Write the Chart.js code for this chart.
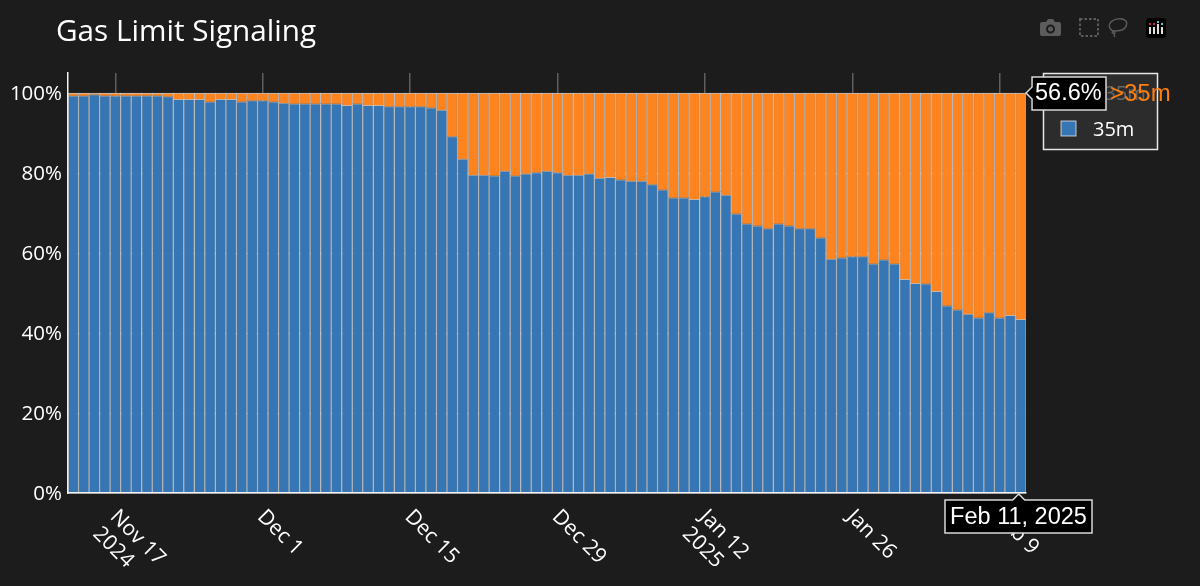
<!DOCTYPE html>
<html><head><meta charset="utf-8">
<style>
html,body{margin:0;padding:0;background:#1c1c1c;width:1200px;height:586px;overflow:hidden}
#c{position:absolute;left:0;top:0}
svg.ic{position:absolute}
</style>
<script src="https://cdn.jsdelivr.net/npm/chart.js@4"></script>
</head><body>
<canvas id="c" width="1200" height="586"></canvas>
<svg class="ic" style="left:1040px;top:18px" width="21" height="19" viewBox="0 0 21 19"><path fill="#5c5c5c" d="M2 4h4l2-3h5l2 3h4a2 2 0 0 1 2 2v10a2 2 0 0 1-2 2H2a2 2 0 0 1-2-2V6a2 2 0 0 1 2-2zm8.500 2.500a4.500 4.500 0 1 0 0 9 4.500 4.500 0 0 0 0-9zm0 2a2.500 2.500 0 1 1 0 5 2.500 2.500 0 0 1 0-5z" fill-rule="evenodd"/></svg>
<svg class="ic" style="left:1079px;top:18px" width="21" height="20" viewBox="0 0 21 20"><rect x="1" y="1" width="18" height="17" fill="none" stroke="#5c5c5c" stroke-width="2" stroke-dasharray="2.500 2"/></svg>
<svg class="ic" style="left:1107px;top:17px" width="22" height="21" viewBox="0 0 22 21"><path fill="none" stroke="#5c5c5c" stroke-width="1.500" d="M6 14C2 12 1 8 4 5 8 1 16 1 19 4c2 3 0 7-4 9-3 1-6 1-9 1zm0 0c-1 1-1 2 0 2 1 1 2 1 2-1 0-1-1-1-2-1zm1 2c0 1 0 3 1 4"/></svg>
<svg class="ic" style="left:1146px;top:18px" width="20" height="20" viewBox="0 0 20 20"><rect width="20" height="20" rx="3" fill="#000"/><g fill="#e0e0e0"><rect x="3" y="9" width="2" height="7"/><rect x="7" y="9" width="2" height="7"/><rect x="11" y="6" width="2" height="10"/><rect x="15" y="9" width="2" height="7"/></g><rect x="3" y="5" width="2" height="2" fill="#e0245e"/><rect x="7" y="5" width="2" height="2" fill="#e0245e"/><rect x="11" y="3" width="2" height="2" fill="#5bc0de"/><rect x="15" y="5" width="2" height="2" fill="#5bc0de"/></svg>
<script>
const chartTitle = 'Gas Limit Signaling';
const categories = [
'2024-11-13','2024-11-14','2024-11-15','2024-11-16','2024-11-17','2024-11-18','2024-11-19','2024-11-20','2024-11-21','2024-11-22','2024-11-23','2024-11-24','2024-11-25','2024-11-26','2024-11-27','2024-11-28','2024-11-29','2024-11-30',
'2024-12-01','2024-12-02','2024-12-03','2024-12-04','2024-12-05','2024-12-06','2024-12-07','2024-12-08','2024-12-09','2024-12-10','2024-12-11','2024-12-12','2024-12-13','2024-12-14','2024-12-15','2024-12-16','2024-12-17','2024-12-18','2024-12-19','2024-12-20','2024-12-21','2024-12-22','2024-12-23','2024-12-24','2024-12-25','2024-12-26','2024-12-27','2024-12-28','2024-12-29','2024-12-30','2024-12-31',
'2025-01-01','2025-01-02','2025-01-03','2025-01-04','2025-01-05','2025-01-06','2025-01-07','2025-01-08','2025-01-09','2025-01-10','2025-01-11','2025-01-12','2025-01-13','2025-01-14','2025-01-15','2025-01-16','2025-01-17','2025-01-18','2025-01-19','2025-01-20','2025-01-21','2025-01-22','2025-01-23','2025-01-24','2025-01-25','2025-01-26','2025-01-27','2025-01-28','2025-01-29','2025-01-30','2025-01-31',
'2025-02-01','2025-02-02','2025-02-03','2025-02-04','2025-02-05','2025-02-06','2025-02-07','2025-02-08','2025-02-09','2025-02-10','2025-02-11'];
const series35m = [
99.3,99.3,99.6,99.3,99.3,99.3,99.3,99.3,99.3,99.1,
98.4,98.4,98.4,97.8,98.4,98.4,97.8,98.1,98.1,97.8,
97.5,97.3,97.3,97.3,97.3,97.3,96.9,97.3,96.9,96.9,
96.6,96.6,96.6,96.6,96.3,95.7,89.1,83.5,79.5,79.5,
79.3,80.5,79.3,79.8,80.1,80.5,80.1,79.5,79.5,79.8,
78.7,78.9,78.3,78.0,78.0,77.1,75.8,73.8,73.8,73.4,
74.1,75.3,74.5,69.8,67.3,66.8,66.1,67.3,66.8,66.1,
66.1,63.8,58.5,58.8,59.1,59.1,57.3,58.3,57.3,53.4,
52.4,52.3,50.4,46.8,45.8,44.7,43.8,45.1,43.8,44.4,
43.4];
const seriesOver35m = [
0.7,0.7,0.4,0.7,0.7,0.7,0.7,0.7,0.7,0.9,
1.6,1.6,1.6,2.2,1.6,1.6,2.2,1.9,1.9,2.2,
2.5,2.7,2.7,2.7,2.7,2.7,3.1,2.7,3.1,3.1,
3.4,3.4,3.4,3.4,3.7,4.3,10.9,16.5,20.5,20.5,
20.7,19.5,20.7,20.2,19.9,19.5,19.9,20.5,20.5,20.2,
21.3,21.1,21.7,22.0,22.0,22.9,24.2,26.2,26.2,26.6,
25.9,24.7,25.5,30.2,32.7,33.2,33.9,32.7,33.2,33.9,
33.9,36.2,41.5,41.2,40.9,40.9,42.7,41.7,42.7,46.6,
47.6,47.7,49.6,53.2,54.2,55.3,56.2,54.9,56.2,55.6,
56.6];
const tickDates = ['2024-11-17','2024-12-01','2024-12-15','2024-12-29','2025-01-12','2025-01-26','2025-02-09'];
const tickLabels = [['Nov 17','2024'],['Dec 1'],['Dec 15'],['Dec 29'],['Jan 12','2025'],['Jan 26'],['Feb 9']];
const yTicks = [0,20,40,60,80,100];
const hoverDate = 'Feb 11, 2025';
const hoverValue = '56.6%';
const nameBlue = '35m', nameOrange = '>35m';
const hoverIndex = categories.length - 1;

const OPEN = '"Open Sans", sans-serif', ARIAL = '"Liberation Sans", Arial, sans-serif';
function box(ctx, pts){
  ctx.beginPath(); pts.forEach((p,i)=> i?ctx.lineTo(p[0],p[1]):ctx.moveTo(p[0],p[1])); ctx.closePath();
  ctx.fillStyle='#000'; ctx.fill(); ctx.strokeStyle='#d8d8d8'; ctx.lineWidth=1.5; ctx.stroke();
}
const overlay = {
  id:'overlay',
  afterDraw(chart){
    const ctx = chart.ctx, xs = chart.scales.x, ys = chart.scales.y;
    ctx.save();
    // title
    ctx.font = '29.7px '+OPEN; ctx.fillStyle='#fff'; ctx.textAlign='left'; ctx.textBaseline='middle';
    ctx.fillText(chartTitle,56,33);
    // legend
    ctx.fillStyle='#2c2c2c'; ctx.fillRect(1043.500,73.500,114,76);
    ctx.strokeStyle='#e6e6e6'; ctx.lineWidth=1.500; ctx.strokeRect(1043.500,73.500,114,76);
    ctx.font='20px '+OPEN; ctx.textBaseline='middle';
    ctx.fillStyle='rgba(255,255,255,0.28)'; ctx.fillText(nameOrange,1093,94);
    ctx.fillStyle='#fff'; ctx.fillText(nameBlue,1093,130);
    ctx.fillStyle='#3776b4'; ctx.fillRect(1061,121,15,15);
    ctx.strokeStyle='rgba(255,255,255,0.7)'; ctx.lineWidth=1; ctx.strokeRect(1061,121,15,15);
    // value hover label
    const px = xs.getPixelForValue(hoverIndex)+5.300, py = ys.getPixelForValue(100);
    box(ctx,[[px,py],[px+6,py-6],[px+6,py-16],[1106,py-16],[1106,py+17],[px+6,py+17],[px+6,py+6]]);
    ctx.font='23.500px '+ARIAL; ctx.fillStyle='#fff'; ctx.textAlign='left';
    ctx.fillText(hoverValue,1035,py+1);
    ctx.fillStyle='#ff7f0e'; ctx.font='24px '+ARIAL; ctx.fillText(nameOrange,1110,py+1);
    // date hover label
    const dx = xs.getPixelForValue(hoverIndex)-2, dy = ys.getPixelForValue(0)+1;
    box(ctx,[[dx,dy],[dx+6,dy+6],[1092,dy+6],[1092,dy+39],[945,dy+39],[945,dy+6],[dx-6,dy+6]]);
    ctx.fillStyle='#fff'; ctx.font='23.500px '+ARIAL; ctx.textAlign='center';
    ctx.fillText(hoverDate,1018.500,dy+24);
    ctx.restore();
  }
};
new Chart(document.getElementById('c'),{
  type:'bar',
  data:{labels:categories,datasets:[
    {label:nameBlue,data:series35m,backgroundColor:'#3776b4',borderColor:'rgba(255,255,255,0.6)',borderWidth:1,barPercentage:1,categoryPercentage:1},
    {label:nameOrange,data:seriesOver35m,backgroundColor:'#fd841f',borderColor:'rgba(255,255,255,0.6)',borderWidth:1,barPercentage:1,categoryPercentage:1}
  ]},
  plugins:[overlay],
  options:{
    responsive:false,animation:false,devicePixelRatio:1,
    layout:{padding:{top:73,right:174,left:0,bottom:0}},
    plugins:{legend:{display:false},tooltip:{enabled:false},title:{display:false}},
    scales:{
      x:{type:'category',stacked:true,offset:true,
        afterBuildTicks(s){ s.ticks = s.ticks.filter(t=>tickDates.includes(categories[t.value])); s._getXAxisLabelAlignment = ()=>'left'; },
        afterFit(s){ s.height = 93; },
        grid:{offset:false,drawTicks:false,color:'#5f5f5f',lineWidth:1.500},
        border:{color:'#f2f2f2',width:1.500,z:1},
        ticks:{autoSkip:false,minRotation:-45,maxRotation:-45,padding:12,labelOffset:-2,color:'#fff',font:{family:OPEN,size:21,lineHeight:1.15},
          callback(v){ const i = tickDates.indexOf(categories[v]); return i<0?'':tickLabels[i]; }}
      },
      y:{stacked:true,min:0,max:105,
        afterBuildTicks(s){ s.ticks = yTicks.map(v=>({value:v})); },
        afterFit(s){ s.width = 68; },
        grid:{drawTicks:false,color:'#5f5f5f',lineWidth:1},
        border:{color:'#f2f2f2',width:1.500,z:1},
        ticks:{padding:6,labelOffset:1.5,color:'#fff',font:{family:OPEN,size:20.5},callback:v=>v+'%'}
      }
    }
  }
});
</script>
</body></html>
